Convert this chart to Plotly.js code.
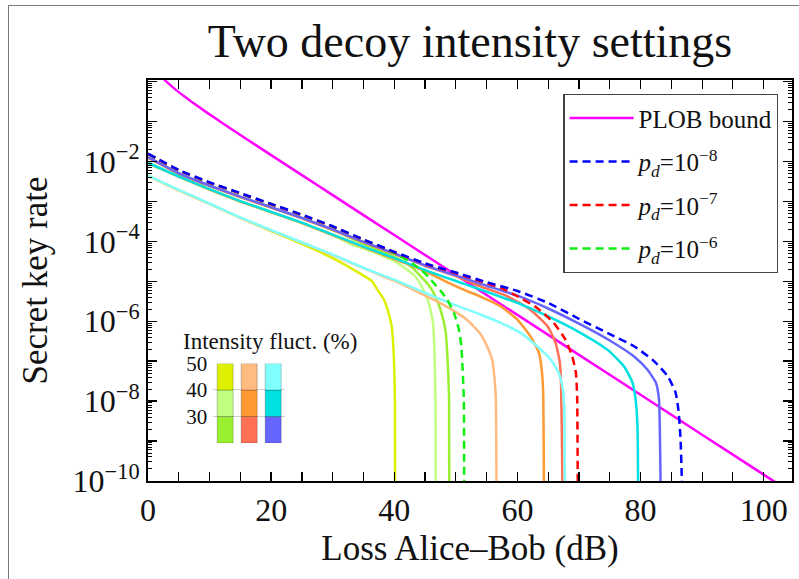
<!DOCTYPE html>
<html><head><meta charset="utf-8">
<script src="https://cdn.plot.ly/plotly-3.0.1.min.js"></script>
<style>
html,body{margin:0;padding:0;background:#fff;}
#wrap{position:relative;width:799px;height:579px;overflow:hidden;}
#chart{width:799px;height:579px;}
#frame{position:absolute;left:8px;top:5px;width:800px;height:600px;border:1px solid #7a7a7a;pointer-events:none;}
</style>
</head><body><div id="wrap"><div id="chart"></div><div id="frame"></div></div>
<script>
// ---- data (loss in dB, secret key rate) ----
const plobLoss = [2, 2.5, 3, 4, 5, 6, 8, 10, 12, 15, 20, 25, 30, 40, 50, 60, 70, 80, 90, 100, 104.6];
const plobRate = [1.44, 1.19, 1.0035, 0.7324, 0.5484, 0.4174, 0.249, 0.152, 0.094, 0.04636, 0.0145, 4.569e-3, 1.443e-3, 1.443e-4, 1.443e-5, 1.443e-6, 1.443e-7, 1.443e-8, 1.443e-9, 1.443e-10, 5.0e-11];

// p_d = 1e-8
const blue0Loss = [0,5,10,15,20,25,30,35,40,45,50,55,60,65,70,75,79,82.2,84.4,85.7,86.2,86.5,86.7,86.75];
const blue0Rate = [1.58e-2,6.17e-3,3.02e-3,1.62e-3,8.71e-4,4.68e-4,2.40e-4,1.12e-4,5.50e-5,2.82e-5,1.66e-5,9.55e-6,5.75e-6,2.88e-6,1.15e-6,4.79e-7,2.34e-7,1.0e-7,4.22e-8,1.62e-8,5.13e-9,1.10e-9,1.10e-10,1e-12];
const blue30Loss = [0,5,10,15,20,25,30,35,40,45,50,55,60,65,70,75,78.9,81.1,82.5,83.0,83.1,83.25,83.3];
const blue30Rate = [1.29e-2,5.13e-3,2.51e-3,1.32e-3,7.24e-4,3.89e-4,2.00e-4,9.77e-5,5.01e-5,2.51e-5,1.41e-5,7.76e-6,4.37e-6,2.09e-6,8.71e-7,3.31e-7,1.33e-7,6.17e-8,2.88e-8,1.10e-8,3.47e-9,1.10e-10,1e-12];
const blue40Loss = [0,5,10,15,20,25,30,35,40,45,50,55,60,65,70,74.6,77.3,78.7,79.2,79.5,79.6,79.65];
const blue40Rate = [9.33e-3,4.22e-3,2.04e-3,1.02e-3,5.50e-4,2.95e-4,1.48e-4,7.41e-5,3.80e-5,1.91e-5,1.02e-5,5.50e-6,2.88e-6,1.32e-6,5.37e-7,1.95e-7,7.50e-8,2.88e-8,1.10e-8,2.37e-9,1.10e-10,1e-12];
const blue50Loss = [0,5,10,15,20,25,30,35,40,45,50,54,57.3,60.5,63.2,65.4,66.7,67.3,67.6,67.7,67.75];
const blue50Rate = [4.47e-3,1.95e-3,8.91e-4,3.98e-4,1.91e-4,9.55e-5,4.68e-5,2.19e-5,1.10e-5,5.13e-6,2.51e-6,1.48e-6,9.12e-7,5.13e-7,2.37e-7,1.10e-7,5.13e-8,2.37e-8,7.50e-9,1.10e-10,1e-12];

// p_d = 1e-7
const red0Loss = [0,5,10,15,20,25,30,35,40,45,50,54,57.3,60.5,63.2,65.9,67.8,68.9,69.5,69.7,69.8,69.85];
const red0Rate = [1.55e-2,6.03e-3,2.95e-3,1.58e-3,8.51e-4,4.57e-4,2.34e-4,1.10e-4,5.37e-5,2.75e-5,1.58e-5,1.0e-5,6.84e-6,3.85e-6,2.16e-6,9.12e-7,3.47e-7,1.33e-7,5.13e-8,1.33e-8,1.10e-10,1e-12];
const red30Loss = [0,5,10,15,20,25,30,35,40,45,50,54,58.4,62.1,64.9,66.2,66.9,67.1,67.3,67.35];
const red30Rate = [1.26e-2,5.01e-3,2.45e-3,1.29e-3,7.08e-4,3.80e-4,1.95e-4,9.55e-5,4.90e-5,2.45e-5,1.35e-5,7.50e-6,4.22e-6,1.95e-6,7.50e-7,2.88e-7,9.12e-8,2.37e-8,1.10e-10,1e-12];
const red40Loss = [0,5,10,15,20,25,30,35,40,44,46.4,49,51.9,54,57.3,60,62.1,63.5,64.0,64.2,64.3,64.35];
const red40Rate = [9.12e-3,4.17e-3,2.00e-3,1.00e-3,5.37e-4,2.88e-4,1.45e-4,7.24e-5,3.63e-5,2.09e-5,1.41e-5,8.91e-6,5.62e-6,4.17e-6,2.37e-6,1.10e-6,4.22e-7,1.62e-7,5.13e-8,1.33e-8,1.10e-10,1e-12];
const red50Loss = [0,5,10,15,20,25,30,35,38,41,44,46.4,48.5,50.2,51.7,52.9,54,54.8,55.5,55.9,56.3,56.5,56.6,56.65];
const red50Rate = [4.47e-3,1.91e-3,8.71e-4,3.89e-4,1.86e-4,9.33e-5,4.57e-5,2.14e-5,1.38e-5,8.91e-6,5.25e-6,3.47e-6,2.34e-6,1.62e-6,1.12e-6,7.50e-7,4.79e-7,2.88e-7,1.66e-7,1.10e-7,3.47e-8,1.10e-8,1.10e-10,1e-12];

// p_d = 1e-6
const green0Loss = [0,5,10,15,20,25,30,35,37.8,41,43,44.3,45.5,46.4,47.6,48.6,49.7,50.5,50.9,51.1,51.3,51.35];
const green0Rate = [1.55e-2,6.03e-3,2.95e-3,1.58e-3,8.51e-4,4.57e-4,2.34e-4,1.10e-4,7.41e-5,4.22e-5,2.75e-5,1.95e-5,1.32e-5,9.12e-6,5.62e-6,3.47e-6,1.62e-6,6.17e-7,2.37e-7,6.17e-8,1.10e-8,1e-12];
const green30Loss = [0,5,10,15,20,25,30,33,35.6,38.5,41,43,44.3,45.5,46.4,47.5,48.3,48.6,48.9,48.95];
const green30Rate = [1.26e-2,5.01e-3,2.45e-3,1.29e-3,7.08e-4,3.80e-4,1.91e-4,1.20e-4,7.94e-5,5.25e-5,3.47e-5,2.14e-5,1.33e-5,8.32e-6,5.13e-6,1.95e-6,6.17e-7,1.62e-7,1.10e-8,1e-12];
const green40Loss = [0,5,10,15,20,25,30,33,36,38.3,40.3,42.1,43.4,44.3,45.0,45.6,46.0,46.3,46.5,46.7,46.75];
const green40Rate = [9.12e-3,4.17e-3,2.00e-3,1.00e-3,5.37e-4,2.88e-4,1.41e-4,8.51e-5,5.89e-5,4.22e-5,3.02e-5,1.95e-5,1.32e-5,8.32e-6,5.01e-6,2.88e-6,1.58e-6,9.12e-7,2.37e-7,1.10e-8,1e-12];
const green50Loss = [0,5,10,15,20,25,28,31,33.5,35.5,36.4,37.3,38.3,39.0,39.6,39.9,40.1,40.15];
const green50Rate = [4.37e-3,1.91e-3,8.71e-4,3.89e-4,1.82e-4,8.71e-5,5.37e-5,3.16e-5,1.91e-5,1.26e-5,1.0e-5,6.03e-6,3.55e-6,1.78e-6,7.08e-7,1.62e-7,1.10e-8,1e-12];

// inset: intensity fluctuation colour key (%)
const fluctColumns = [0, 1, 2];
const fluctLow = [20, 20, 20];
const fluctMid = [30, 30, 30];
const fluctHigh = [40, 40, 40];
const fluctStep = [10, 10, 10];
const fluctTicks = [30, 40, 50];

// ticks
const xMajorTicks = [0, 20, 40, 60, 80, 100];
const yLabelledDecades = [1e-10, 1e-8, 1e-6, 1e-4, 1e-2];
const yLabelledText = ['10<sup>−10</sup>','10<sup>−8</sup>','10<sup>−6</sup>','10<sup>−4</sup>','10<sup>−2</sup>'];
const yOtherDecades = [1e-9, 1e-7, 1e-5, 1e-3, 1e-1, 1];

const C = {
  yellow:'#dcf000', lgreen:'#c0ff80', green:'#9af030',
  lorange:'#ffbb80', orange:'#ff9933', redor:'#ff7055',
  lcyan:'#80ffff', cyan:'#00e0e0', violet:'#6666ff'
};
const FONT = 'Liberation Serif, Times New Roman, serif';

function line(x, y, color, dash, name, show, rank){
  return {type:'scatter', mode:'lines', x:x, y:y, name:name||'', showlegend:!!show,
    legendrank: rank||1000, legendgroup: name||undefined,
    line:{color:color, width:2.5, dash:dash||'solid', shape:'spline', smoothing:0.5},
    hoverinfo:'skip'};
}

const traces = [
  line(plobLoss, plobRate, '#ff00ff', 'solid', 'PLOB bound', true, 1),
  line(green50Loss, green50Rate, C.yellow),
  line(green40Loss, green40Rate, C.lgreen),
  line(green30Loss, green30Rate, C.green),
  line(red50Loss, red50Rate, C.lorange),
  line(red40Loss, red40Rate, C.orange),
  line(red30Loss, red30Rate, C.redor),
  line(blue50Loss, blue50Rate, C.lcyan),
  line(blue40Loss, blue40Rate, C.cyan),
  line(blue30Loss, blue30Rate, C.violet),
  line(green0Loss, green0Rate, '#11ee11', '8px,5px', '<i>p</i><sub><i>d</i></sub>=10<sup>−6</sup>', true, 4),
  line(red0Loss, red0Rate, '#ff0000', '8px,5px', '<i>p</i><sub><i>d</i></sub>=10<sup>−7</sup>', true, 3),
  line(blue0Loss, blue0Rate, '#0000ff', '8px,5px', '<i>p</i><sub><i>d</i></sub>=10<sup>−8</sup>', true, 2)
];

const barLine = {color:'rgba(0,0,0,0.22)', width:1};
traces.push({type:'bar', x:fluctColumns, y:fluctStep, base:fluctLow, xaxis:'x2', yaxis:'y2', showlegend:false,
  marker:{color:[C.green, C.redor, C.violet], line:barLine}, hoverinfo:'skip'});
traces.push({type:'bar', x:fluctColumns, y:fluctStep, base:fluctMid, xaxis:'x2', yaxis:'y2', showlegend:false,
  marker:{color:[C.lgreen, C.orange, C.cyan], line:barLine}, hoverinfo:'skip'});
traces.push({type:'bar', x:fluctColumns, y:fluctStep, base:fluctHigh, xaxis:'x2', yaxis:'y2', showlegend:false,
  marker:{color:[C.yellow, C.lorange, C.lcyan], line:barLine}, hoverinfo:'skip'});

// invisible trace so the overlay axis carrying the odd-decade ticks is drawn
traces.push({type:'scatter', mode:'lines', x:[0], y:[1e-5], yaxis:'y3', showlegend:false, hoverinfo:'skip',
  line:{color:'rgba(0,0,0,0)', width:0}});

const yRange = [-10, 0.0425];
const layout = {
  width:799, height:579,
  margin:{l:147.5, r:7.3, t:80, b:98.3},
  paper_bgcolor:'#fff', plot_bgcolor:'#fff',
  font:{family:FONT, color:'#111'},
  title:{text:'Two decoy intensity settings', font:{family:FONT, size:46, color:'#111'}, x:0.5, xref:'paper', xanchor:'center', y:0.93, yanchor:'middle'},
  showlegend:true,
  legend:{x:0.645, y:0.9648, xanchor:'left', yanchor:'top', bgcolor:'#fff', bordercolor:'#444', borderwidth:1.2,
    font:{family:FONT, size:25, color:'#111'}, traceorder:'grouped', tracegroupgap:8, itemwidth:64},
  barmode:'overlay', bargap:0.333,
  xaxis:{range:[0,104.6], tickvals:xMajorTicks, ticks:'inside', ticklen:9, tickwidth:1.5, tickcolor:'#000',
    showline:true, linecolor:'#000', linewidth:2, mirror:'allticks', showgrid:false, zeroline:false, automargin:false,
    tickfont:{family:FONT, size:32, color:'#111'},
    minor:{dtick:5, tick0:0, ticks:'inside', ticklen:5, tickwidth:1.2, tickcolor:'#000'},
    title:{text:'Loss Alice–Bob (dB)', font:{family:FONT, size:35, color:'#111'}, standoff:8}},
  yaxis:{type:'log', range:yRange, tickmode:'array', tickvals:yLabelledDecades, ticktext:yLabelledText,
    ticks:'inside', ticklen:9, tickwidth:1.5, tickcolor:'#000',
    showline:true, linecolor:'#000', linewidth:2, mirror:'allticks', showgrid:false, zeroline:false, automargin:false,
    tickfont:{family:FONT, size:32, color:'#111'},
    minor:{dtick:'D1', ticks:'inside', ticklen:4, tickwidth:1, tickcolor:'#000'},
    title:{text:'Secret key rate', font:{family:FONT, size:35, color:'#111'}, standoff:14}},
  yaxis3:{type:'log', range:yRange, overlaying:'y', anchor:'x', side:'left', tickmode:'array', tickvals:yOtherDecades,
    showticklabels:false, ticks:'inside', ticklen:9, tickwidth:1.5, tickcolor:'#000',
    showline:true, linecolor:'#000', linewidth:2, mirror:'allticks', showgrid:false, zeroline:false, automargin:false},
  xaxis2:{domain:[0.1012, 0.2130], anchor:'y2', range:[-0.5, 2.5], showgrid:false, zeroline:false, showline:false,
    showticklabels:false, ticks:'', automargin:false},
  yaxis2:{domain:[0.0948, 0.293], anchor:'x2', range:[20, 50], tickmode:'array', tickvals:fluctTicks,
    showgrid:true, gridcolor:'#cfcfcf', gridwidth:1, zeroline:false, showline:false, ticks:'', automargin:false,
    ticklabelstandoff:5, tickfont:{family:FONT, size:21, color:'#111'}},
  annotations:[{text:'Intensity fluct. (%)', xref:'paper', yref:'paper', x:0.0515, y:0.3469, xanchor:'left', yanchor:'middle',
    showarrow:false, font:{family:FONT, size:23, color:'#111'}}]
};

Plotly.newPlot('chart', traces, layout, {displayModeBar:false, staticPlot:true});
</script></body></html>
